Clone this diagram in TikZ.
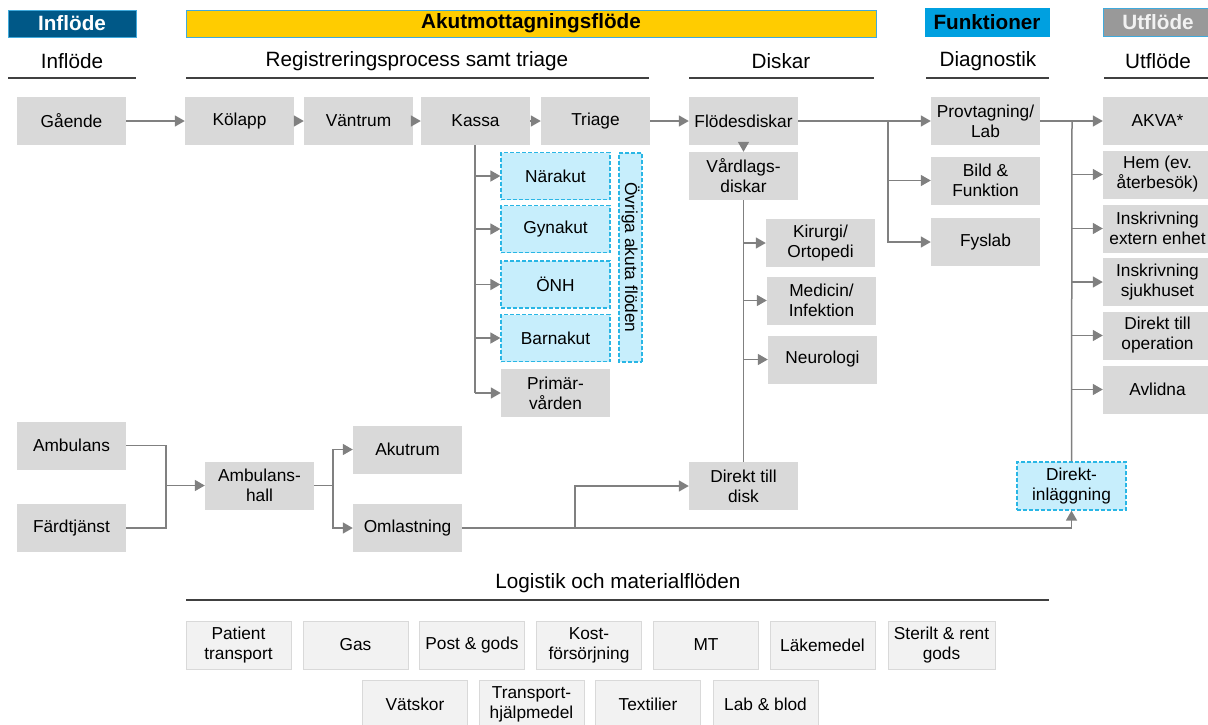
\documentclass[tikz,border=0pt]{standalone}
\usepackage{fontspec}
\setmainfont{Liberation Sans}
\usetikzlibrary{arrows.meta}
\definecolor{boxgray}{RGB}{217,217,217}
\definecolor{linegray}{RGB}{128,128,128}
\definecolor{hdark}{RGB}{64,64,64}
\definecolor{cyanfill}{RGB}{199,238,252}
\definecolor{cyanline}{RGB}{41,182,229}
\definecolor{logfill}{RGB}{242,242,242}
\definecolor{logline}{RGB}{217,217,217}
\definecolor{inblue}{RGB}{0,88,135}
\definecolor{akyellow}{RGB}{255,204,0}
\definecolor{fublue}{RGB}{0,160,224}
\definecolor{utgray}{RGB}{153,153,153}
\definecolor{barline}{RGB}{64,170,220}
\newcommand\fsn{\fontsize{17.3}{20}\selectfont}
\newcommand\fsh{\fontsize{20.7}{24}\selectfont}
\begin{document}
\begin{tikzpicture}[x=1pt,y=-1pt,
  gbox/.style={fill=boxgray, draw=none, minimum width=109pt, minimum height=48pt, inner sep=0pt, align=center, font=\fsn},
  dbox/.style={fill=cyanfill, draw=cyanline, line width=1.2pt, dash pattern=on 4pt off 2pt, minimum width=109pt, minimum height=47pt, inner sep=0pt, align=center, font=\fsn},
  lbox/.style={fill=logfill, draw=logline, line width=0.8pt, minimum width=105pt, minimum height=48pt, inner sep=0pt, align=center, font=\fsn},
  bar/.style={draw=barline, line width=1pt, inner sep=0pt, font=\fsh\bfseries},
  htext/.style={font=\fsh, inner sep=0pt},
  hline/.style={draw=hdark, line width=1.6pt},
  conn/.style={draw=linegray, line width=1.5pt},
  arr/.style={conn, -{Triangle[length=10pt,width=11pt]}}
]
\useasboundingbox (0,0) rectangle (1208,724);
% top bars
\node[bar, fill=inblue, text=white, minimum width=128pt, minimum height=27pt] (b1) at (72,23.5) {Inflöde};
\node[bar, fill=akyellow, text=black, minimum width=690pt, minimum height=27pt] (b2) at (531,23.5) {Akutmottagningsflöde};
\node[bar, fill=fublue, draw=fublue, text=black, minimum width=124pt, minimum height=28pt] (b3) at (987,22.5) {Funktioner};
\node[bar, fill=utgray, text={logfill}, minimum width=110pt, minimum height=28pt] (b4) at (1158,22.5) {Utflöde};
% section headers
\node[htext] (h1) at (72,61) {Inflöde};
\node[htext] (h2) at (417,61) {Registreringsprocess samt triage};
\node[htext] (h3) at (781,61) {Diskar};
\node[htext] (h4) at (988,61) {Diagnostik};
\node[htext] (h5) at (1158,61) {Utflöde};
\draw[hline] (8,78) -- (136,78);
\draw[hline] (186,78) -- (649,78);
\draw[hline] (689,78) -- (874,78);
\draw[hline] (926,78) -- (1049,78);
\draw[hline] (1104,78) -- (1212,78);
% row 1
\node[gbox] (gaende) at (71.5,121) {Gående};
\node[gbox] (kolapp) at (239.5,121) {Kölapp};
\node[gbox] (vantrum) at (358.5,121) {Väntrum};
\node[gbox] (kassa) at (475.5,121) {Kassa};
\node[gbox] (triage) at (595.5,121) {Triage};
\node[gbox] (flodes) at (743.5,121) {Flödesdiskar};
\node[gbox] (vardlag) at (743.5,176) {Vårdlags-\\diskar};
% akuta floden
\node[dbox] (narakut) at (555.5,176) {Närakut};
\node[dbox] (gynakut) at (555.5,229) {Gynakut};
\node[dbox] (onh) at (555.5,284.5) {ÖNH};
\node[dbox] (barnakut) at (555.5,338) {Barnakut};
\node[gbox] (primar) at (555.5,393) {Primär-\\vården};
\node[dbox, rotate=-90, minimum width=209pt, minimum height=23pt] (ovriga) at (630.5,257.5) {Övriga akuta flöden};
% diskar
\node[gbox] (kirurgi) at (820.5,243) {Kirurgi/\\Ortopedi};
\node[gbox] (medicin) at (821.5,300.5) {Medicin/\\Infektion};
\node[gbox] (neuro) at (822.5,359.5) {Neurologi};
% diagnostik
\node[gbox] (prov) at (985.5,121) {Provtagning/\\Lab};
\node[gbox] (bild) at (985.5,180.5) {Bild \&\\Funktion};
\node[gbox] (fyslab) at (985.5,242) {Fyslab};
% utflode
\node[gbox] (akva) at (1157.5,121) {AKVA*};
\node[gbox] (hem) at (1157.5,174.5) {Hem (ev.\\återbesök)};
\node[gbox] (ext) at (1157.5,228.5) {Inskrivning\\extern enhet};
\node[gbox] (sjuk) at (1157.5,282) {Inskrivning\\sjukhuset};
\node[gbox] (oper) at (1157.5,335.5) {Direkt till\\operation};
\node[gbox] (avlidna) at (1157.5,389.5) {Avlidna};
% ambulans
\node[gbox] (ambulans) at (71.5,445.5) {Ambulans};
\node[gbox] (fardtjanst) at (71.5,528) {Färdtjänst};
\node[gbox] (ambhall) at (259.5,485.5) {Ambulans-\\hall};
\node[gbox] (akutrum) at (407.5,449.5) {Akutrum};
\node[gbox] (omlast) at (407.5,528) {Omlastning};
\node[gbox] (direktdisk) at (743.5,486) {Direkt till\\disk};
\node[dbox, minimum height=48pt] (direktinl) at (1071.5,486) {Direkt-\\inläggning};
% connectors row 1
\draw[arr] (gaende) -- (kolapp);
\draw[arr] (kolapp) -- (vantrum);
\draw[arr] (vantrum) -- (kassa);
\draw[arr] (kassa) -- (triage);
\draw[arr] (triage) -- (flodes);
\draw[arr] (flodes) -- (vardlag);
% kassa trunk
\coordinate (kt) at (475,145);
\draw[conn] (kt) -- (kt |- primar.west);
\foreach \n in {narakut,gynakut,onh,barnakut,primar}
  \draw[arr] (kt |- \n.west) -- (\n.west);
% vardlag trunk
\coordinate (vt) at (743.5,200);
\draw[conn] (vardlag.south) -- (direktdisk.north);
\foreach \n in {kirurgi,medicin,neuro}
  \draw[arr] (vt |- \n.west) -- (\n.west);
% flodes to diagnostik
\coordinate (fj) at (888,121);
\draw[arr] (flodes.east) -- (prov.west);
\draw[arr] (fj) |- (bild.west);
\draw[arr] (fj) |- (fyslab.west);
% utflode trunk
\coordinate (uj) at (1072,121);
\draw[arr] (prov.east) -- (akva.west);
\draw[conn] (uj) -- (direktinl.north);
\foreach \n in {hem,ext,sjuk,oper,avlidna}
  \draw[arr] (uj |- \n.west) -- (\n.west);
% ambulans
\coordinate (aj) at (166,485.5);
\draw[conn] (ambulans.east) -| (aj);
\draw[conn] (fardtjanst.east) -| (aj);
\draw[arr] (aj) -- (ambhall.west);
\coordinate (hj) at (333,485.5);
\draw[conn] (ambhall.east) -- (hj);
\draw[arr] (hj) |- (akutrum.west);
\draw[arr] (hj) |- (omlast.west);
\draw[arr] (omlast.east) -| (direktinl.south);
\coordinate (oj) at (575,528);
\draw[arr] (oj) |- (direktdisk.west);
% logistik
\node[htext] (logt) at (618,583) {Logistik och materialflöden};
\draw[hline] (186,600) -- (1049,600);
\node[lbox] (patient) at (238.5,645) {Patient\\transport};
\node[lbox] (gas) at (355.5,645) {Gas};
\node[lbox] (post) at (472,645) {Post \& gods};
\node[lbox] (kost) at (589,645) {Kost-\\försörjning};
\node[lbox] (mt) at (706,645) {MT};
\node[lbox] (lake) at (822.5,645) {Läkemedel};
\node[lbox, minimum width=107pt] (steril) at (941.5,645) {Sterilt \& rent\\gods};
\node[lbox] (vatskor) at (415,704) {Vätskor};
\node[lbox] (transport) at (531.5,704) {Transport-\\hjälpmedel};
\node[lbox] (textil) at (648,704) {Textilier};
\node[lbox] (lab) at (765.5,704) {Lab \& blod};
\end{tikzpicture}
\end{document}
